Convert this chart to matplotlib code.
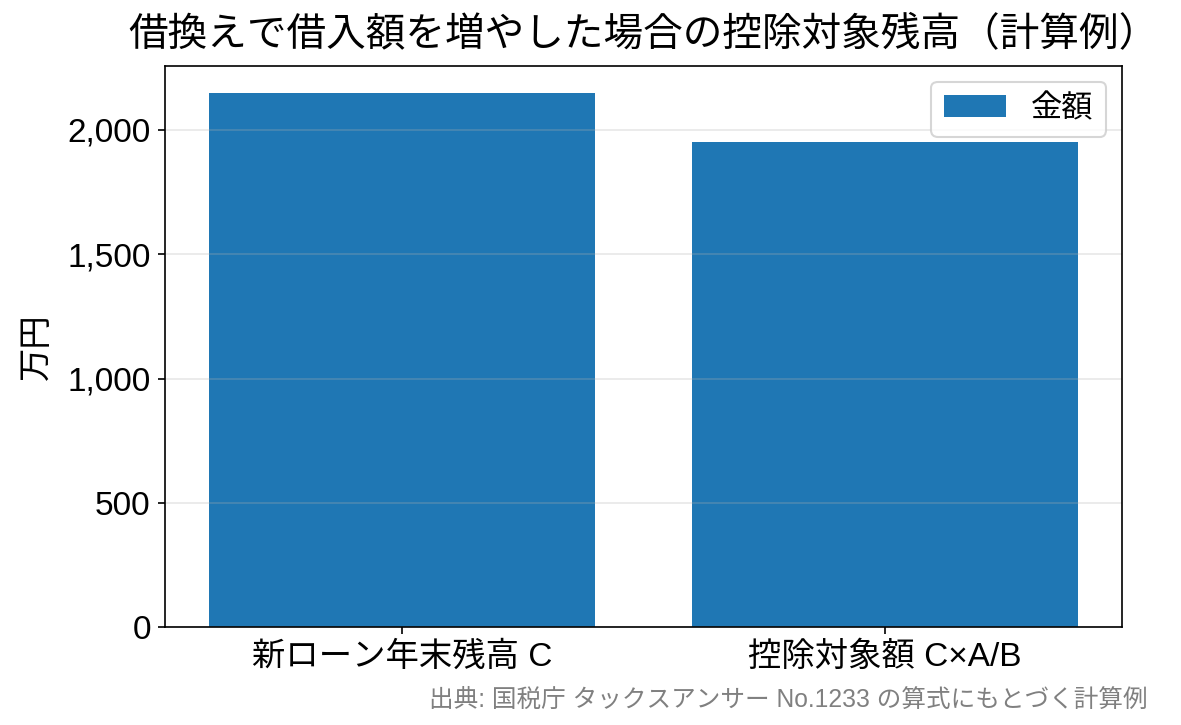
import matplotlib
matplotlib.use("Agg")
import matplotlib.pyplot as plt
from matplotlib.ticker import FuncFormatter

plt.rcParams['font.family'] = ['Liberation Sans', 'Noto Sans CJK JP', 'DejaVu Sans']

# data (万円)
categories = ['新ローン年末残高 C', '控除対象額 C×A/B']
amounts = [2150, 1950]
series_label = '金額'

title = '借換えで借入額を増やした場合の控除対象残高（計算例）'
ylabel = '万円'
source = '出典: 国税庁 タックスアンサー No.1233 の算式にもとづく計算例'

fig, ax = plt.subplots(figsize=(1181 / 150, 725 / 150), dpi=150)
ax.bar(categories, amounts, color='#1f77b4', label=series_label)

ax.set_title(title, fontsize=19, pad=10)
ax.set_ylabel(ylabel, fontsize=16, labelpad=7)
ax.tick_params(axis='both', labelsize=16)
ax.yaxis.set_major_formatter(FuncFormatter(lambda v, p: f'{v:,.0f}'))
ax.grid(axis='y', alpha=0.3)
ax.legend(fontsize=15, loc='upper right')

fig.text(0.972, 0.018, source, ha='right', va='bottom', fontsize=11.8, color='gray')

fig.subplots_adjust(left=0.14, right=0.95, top=0.909, bottom=0.135)
fig.savefig('out.png', dpi=150)
